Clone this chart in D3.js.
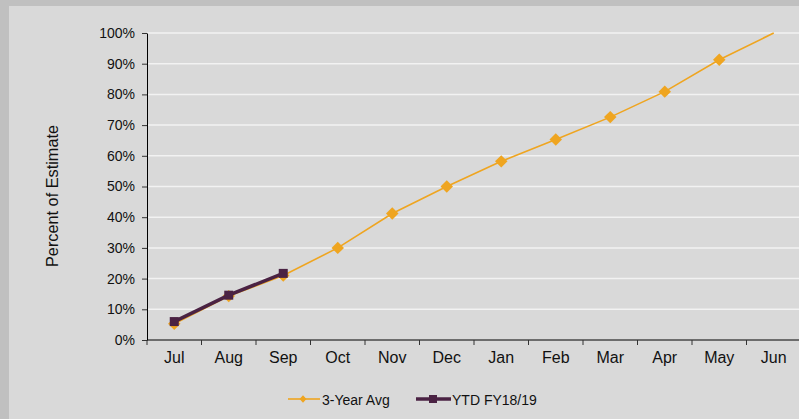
<!DOCTYPE html>
<html><head><meta charset="utf-8">
<script src="https://cdn.jsdelivr.net/npm/d3@7"></script>
<style>html,body{margin:0;padding:0;background:#c0c0c0;overflow:hidden}</style>
</head><body>
<svg id="c" width="799" height="419"></svg>
<script>
const months = ["Jul","Aug","Sep","Oct","Nov","Dec","Jan","Feb","Mar","Apr","May","Jun"];
const avg3yr = [5.3,14.3,21,30,41.2,50,58.2,65.3,72.6,80.9,91.3,100];
const ytd = [6,14.6,21.7];
const yTicks = [0,10,20,30,40,50,60,70,80,90,100];
const seriesNames = ["3-Year Avg","YTD FY18/19"];

const svg = d3.select("#c");
const font = "Liberation Sans, Arial, sans-serif";
svg.append("rect").attr("x",9).attr("y",6).attr("width",800).attr("height",420).attr("fill","#d9d9d9");

const L=147, R=801, T=33, B=340;
const x = d3.scaleBand().domain(months).range([L,R]);
const y = d3.scaleLinear().domain([0,100]).range([B,T]);
const cx = d => x(d)+x.bandwidth()/2;

// gridlines
svg.append("g").selectAll("line").data(yTicks.slice(1)).join("line")
  .attr("x1",L).attr("x2",R).attr("y1",d=>y(d)).attr("y2",d=>y(d))
  .attr("stroke","#f2f2f2").attr("stroke-width",1.5);

const ya = svg.append("g").attr("transform",`translate(${L},0)`)
  .call(d3.axisLeft(y).tickValues(yTicks).tickFormat(d=>d+"%").tickSize(5).tickSizeOuter(0));
ya.select(".domain").attr("stroke","#000");
ya.selectAll(".tick line").attr("stroke","#333");
ya.selectAll("text").attr("font-family",font).attr("font-size",14).attr("fill","#111").attr("dx",-4);

const xa = svg.append("g").attr("transform",`translate(0,${B})`)
  .call(d3.axisBottom(x).tickSize(0).tickPadding(12));
xa.select(".domain").attr("stroke","#000").attr("d",`M${L},0H${R}`);
xa.selectAll("text").attr("font-family",font).attr("font-size",16).attr("fill","#111");
// ticks between categories
xa.append("g").selectAll("line").data(months).join("line")
  .attr("x1",d=>x(d)).attr("x2",d=>x(d)).attr("y1",0).attr("y2",5).attr("stroke","#333");

svg.append("text").attr("transform",`translate(58,196) rotate(-90)`)
  .attr("text-anchor","middle").attr("font-family",font).attr("font-size",16.3).attr("fill","#111")
  .text("Percent of Estimate");

const orange="#efa520", purple="#4a2243";
const line = d3.line().x((d,i)=>cx(months[i])).y(d=>y(d));
svg.append("path").datum(avg3yr).attr("d",line).attr("fill","none").attr("stroke",orange).attr("stroke-width",1.6);
const diamond = d3.symbol().type(d3.symbolDiamond).size(44);
const pts = avg3yr.map((v,i)=>({m:months[i],v})).filter(p=>p.v<100);
svg.append("g").selectAll("path").data(pts).join("path")
  .attr("d",diamond).attr("transform",d=>`translate(${cx(d.m)},${y(d.v)}) scale(1.75,1)`)
  .attr("fill",orange);

svg.append("path").datum(ytd).attr("d",line).attr("fill","none").attr("stroke",purple).attr("stroke-width",3.6);
svg.append("g").selectAll("rect").data(ytd).join("rect")
  .attr("x",(d,i)=>cx(months[i])-4.5).attr("y",d=>y(d)-4.5).attr("width",9).attr("height",9).attr("fill",purple);

// legend
const lg = svg.append("g");
lg.append("line").attr("x1",288).attr("x2",320).attr("y1",399).attr("y2",399).attr("stroke",orange).attr("stroke-width",1.6);
lg.append("path").attr("d",d3.symbol().type(d3.symbolDiamond).size(16)).attr("transform","translate(303,399) scale(1.6,1)").attr("fill",orange);
lg.append("text").attr("x",322).attr("y",405).attr("font-family",font).attr("font-size",14).attr("fill","#111").text(seriesNames[0]);
lg.append("line").attr("x1",416).attr("x2",451).attr("y1",399).attr("y2",399).attr("stroke",purple).attr("stroke-width",3.6);
lg.append("rect").attr("x",429).attr("y",395).attr("width",8).attr("height",8).attr("fill",purple);
lg.append("text").attr("x",452).attr("y",405).attr("font-family",font).attr("font-size",14).attr("fill","#111").text(seriesNames[1]);
</script>
</body></html>
